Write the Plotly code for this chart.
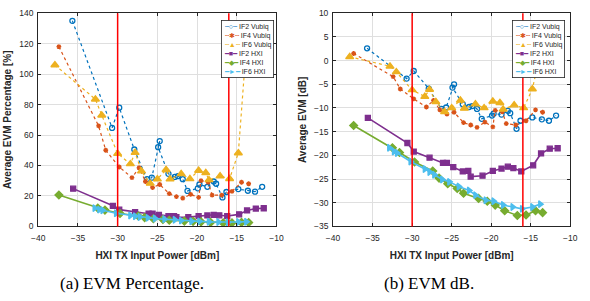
import plotly.graph_objects as go

# ---------------- data ----------------
POWER_TICKS = [-40, -35, -30, -25, -20, -15, -10]
PCT_TICKS = [0, 20, 40, 60, 80, 100, 120, 140]
DB_TICKS = [-35, -30, -25, -20, -15, -10, -5, 0, 5, 10]
THRESHOLDS_DBM = [-30, -16]

SERIES_NAMES = ["IF2 Vubiq", "IF4 Vubiq", "IF6 Vubiq", "IF2 HXI", "IF4 HXI", "IF6 HXI"]

IF2_VUBIQ_X = [-35.7, -30.7, -29.8, -27.9, -26.3, -25.7, -24.7, -24.9, -23.6, -22.8, -22.4, -21.8,
               -21.2, -19.9, -19.7, -18.7, -17.9, -17.6, -16.8, -16.3, -14.8, -13.6, -12.7, -11.8]
IF2_VUBIQ_PCT = [135, 64.7, 78, 50.5, 31, 32, 56, 52, 34.5, 32.5, 33, 31,
                 23.3, 25, 27.5, 26, 29.5, 28, 19, 22.6, 24.5, 23.4, 22.8, 26]
IF2_VUBIQ_DB = [2.6, -3.8, -2.2, -5.9, -10.2, -9.9, -5.0, -5.7, -9.2, -9.8, -9.6, -10.2,
                -12.3, -11.6, -11.2, -11.4, -10.6, -11.1, -14.4, -12.7, -12.0, -12.4, -12.7, -11.6]

IF4_VUBIQ_X = [-37.4, -32.4, -31.5, -29.8, -28.2, -27.3, -26.5, -25.6, -24.7, -23.5, -22.6,
               -21.8, -20.8, -19.8, -19.5, -18.6, -18.1, -16.9, -15.6, -14.4, -13.5]
IF4_VUBIQ_PCT = [118, 66, 50, 39, 32, 38.5, 29.5, 25.5, 27.5, 21.5, 19.5,
                 18.5, 21, 19, 30, 29, 20.5, 20.5, 23, 29, 28]
IF4_VUBIQ_DB = [1.5, -3.4, -6.0, -8.1, -9.8, -8.4, -10.4, -11.3, -10.9, -13.1, -13.6,
                -14.1, -13.0, -14.0, -10.5, -10.8, -13.3, -13.6, -12.7, -10.4, -10.9]

IF6_VUBIQ_X = [-37.9, -32.8, -32.0, -30.0, -28.4, -27.8, -27.0, -25.9, -25.0, -23.9, -23.4,
               -22.0, -20.9, -19.8, -18.9, -18.5, -17.1, -15.9, -14.8, -13.8]
IF6_VUBIQ_PCT = [106, 83.5, 73, 47.8, 41, 48.5, 36.3, 28.2, 31, 37.2, 31,
                 34.5, 31.2, 36.7, 35.2, 30.5, 33, 31.3, 48.2, 118]
IF6_VUBIQ_DB = [0.8, -1.2, -2.4, -6.2, -7.6, -6.1, -8.7, -10.8, -10.0, -8.4, -10.1,
                -9.2, -10.0, -8.6, -8.9, -10.3, -9.4, -10.0, -6.0, 1.4]

IF2_HXI_X = [-35.6, -30.6, -29.8, -27.8, -26.1, -25.6, -24.8, -23.6, -22.9, -22.6, -21.1,
             -19.8, -18.7, -17.9, -17.2, -16.2, -14.7, -13.7, -12.6, -11.6]
IF2_HXI_PCT = [24.8, 13.5, 11.0, 9.4, 8.3, 8.3, 7.5, 6.8, 6.8, 6.0, 6.1,
               6.8, 7.2, 7.6, 7.3, 6.8, 7.9, 10.5, 11.7, 11.9]
IF2_HXI_DB = [-12.1, -17.4, -19.2, -20.5, -21.6, -21.6, -22.5, -23.4, -23.3, -24.5, -24.3,
              -23.3, -22.8, -22.4, -22.7, -23.4, -22.1, -19.6, -18.6, -18.5]

IF4_HXI_X = [-37.4, -32.5, -31.6, -29.7, -27.4, -26.6, -25.5, -24.3, -23.5, -21.6, -20.5,
             -19.5, -18.3, -16.7, -15.6, -14.4, -13.5]
IF4_HXI_PCT = [20.6, 12.0, 10.7, 8.5, 6.8, 5.8, 5.0, 4.5, 4.0, 3.5, 3.3,
               3.0, 2.6, 2.3, 2.3, 2.6, 2.5]
IF4_HXI_DB = [-13.7, -18.4, -19.4, -21.4, -23.3, -24.8, -26.0, -27.0, -28.0, -29.1, -29.7,
              -30.5, -31.7, -32.7, -32.6, -31.7, -32.1]

IF6_HXI_X = [-32.9, -32.3, -31.9, -30.2, -28.4, -27.8, -27.2, -26.2, -25.3, -24.1, -22.8,
             -22.0, -20.7, -19.7, -18.5, -17.3, -16.1, -14.8, -13.8]
IF6_HXI_PCT = [12.0, 11.0, 10.6, 8.6, 7.2, 6.7, 6.2, 5.6, 5.2, 4.7, 4.3,
               3.8, 3.4, 3.3, 3.0, 2.9, 2.7, 2.9, 3.1]
IF6_HXI_DB = [-18.4, -19.2, -19.5, -21.3, -22.9, -23.5, -24.1, -25.1, -25.6, -26.6, -27.4,
              -28.4, -29.5, -29.7, -30.5, -30.9, -31.3, -30.9, -30.3]

SERIES_X = [IF2_VUBIQ_X, IF4_VUBIQ_X, IF6_VUBIQ_X, IF2_HXI_X, IF4_HXI_X, IF6_HXI_X]
SERIES_PCT = [IF2_VUBIQ_PCT, IF4_VUBIQ_PCT, IF6_VUBIQ_PCT, IF2_HXI_PCT, IF4_HXI_PCT, IF6_HXI_PCT]
SERIES_DB = [IF2_VUBIQ_DB, IF4_VUBIQ_DB, IF6_VUBIQ_DB, IF2_HXI_DB, IF4_HXI_DB, IF6_HXI_DB]

# ---------------- styles ----------------
COLORS = ["#0072BD", "#D95319", "#EDB120", "#7E2F8E", "#77AC30", "#4DBEEE"]
SYMBOLS = ["circle-open", "asterisk-open", "triangle-up", "square", "diamond", "triangle-right"]
SIZES = [5, 4, 7, 5, 6, 6]
DASHES = ["dot", "dot", "dot", "solid", "solid", "solid"]
WIDTHS = [1.2, 1.2, 1.2, 1.6, 1.6, 1.6]
LEGEND_GLYPHS = ["┄○┄", "┄✱┄", "┄▲┄", "━■━", "━◆━", "━►━"]

W, H = 590, 301
FONT = "Liberation Sans, Arial, sans-serif"
AX = "#262626"
GRID = "#DFDFDF"

fig = go.Figure()
for i, name in enumerate(SERIES_NAMES):
    for xs, ys, xa, ya in ((SERIES_X[i], SERIES_PCT[i], "x", "y"), (SERIES_X[i], SERIES_DB[i], "x2", "y2")):
        fig.add_trace(go.Scatter(
            x=xs, y=ys, xaxis=xa, yaxis=ya, name=name, mode="lines+markers", showlegend=False,
            line=dict(color=COLORS[i], width=WIDTHS[i], dash=DASHES[i]),
            marker=dict(symbol=SYMBOLS[i], size=SIZES[i], color=COLORS[i],
                        line=dict(color=COLORS[i], width=1.3)),
        ))

def xaxis(dom, anchor):
    return dict(domain=dom, anchor=anchor, range=[-40, -10], tickvals=POWER_TICKS,
                ticks="inside", ticklen=3, tickcolor=AX, showline=True, mirror="ticks",
                linecolor=AX, linewidth=1, showgrid=True, gridcolor=GRID, zeroline=False,
                ticklabelstandoff=3,
                tickfont=dict(family=FONT, size=8.5, color=AX),
                title=dict(text="<b>HXI TX Input Power [dBm]</b>", font=dict(family=FONT, size=10, color=AX),
                           standoff=10))

def yaxis(dom, anchor, rng, ticks, title):
    return dict(domain=dom, anchor=anchor, range=rng, tickvals=ticks,
                ticks="inside", ticklen=3, tickcolor=AX, showline=True, mirror="ticks",
                linecolor=AX, linewidth=1, showgrid=True, gridcolor=GRID, zeroline=False,
                ticklabelstandoff=2,
                tickfont=dict(family=FONT, size=8.5, color=AX),
                title=dict(text="<b>" + title + "</b>", font=dict(family=FONT, size=10, color=AX),
                           standoff=5))

ydom = [1 - 229 / H, 1 - 8.5 / H]
fig.update_layout(
    width=W, height=H, margin=dict(l=0, r=0, t=0, b=0),
    paper_bgcolor="white", plot_bgcolor="white", showlegend=False,
    xaxis=xaxis([32 / W, 276 / W], "y"),
    yaxis=yaxis(ydom, "x", [0, 140], PCT_TICKS, "Average EVM Percentage [%]"),
    xaxis2=xaxis([334 / W, 577 / W], "y2"),
    yaxis2=yaxis(ydom, "x2", [-35, 10], DB_TICKS, "Average EVM [dB]"),
)

shapes = []
for xr, yr in (("x", "y domain"), ("x2", "y2 domain")):
    for v in THRESHOLDS_DBM:
        shapes.append(dict(type="line", xref=xr, yref=yr, x0=v, x1=v, y0=0, y1=1,
                           line=dict(color="#FF0000", width=1.5)))
fig.update_layout(shapes=shapes)

legend_text = "<br>".join(
    f"<span style='color:{c}'>{g}</span> {n}" for c, g, n in zip(COLORS, LEGEND_GLYPHS, SERIES_NAMES)
)
annotations = []
for xr in (273 / W, 572 / W):
    annotations.append(dict(
        text=legend_text, xref="paper", yref="paper", x=xr, y=1 - 15 / H,
        xanchor="right", yanchor="top", align="left", showarrow=False,
        font=dict(family=FONT, size=7, color=AX), bgcolor="white",
        bordercolor=AX, borderwidth=0.8, borderpad=2))
for txt, cx in (("(a) EVM Percentage.", 128), ("(b) EVM dB.", 432)):
    annotations.append(dict(
        text=txt, xref="paper", yref="paper", x=cx / W, y=1 - 288 / H,
        xanchor="center", yanchor="middle", showarrow=False,
        font=dict(family="Liberation Serif, serif", size=17, color="black")))
fig.update_layout(annotations=annotations)

fig.write_html("out.html")
